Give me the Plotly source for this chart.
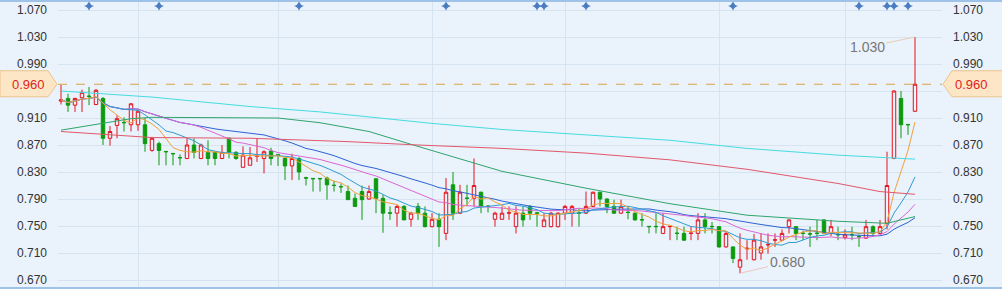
import plotly.graph_objects as go
import pandas as pd

# ---------------- data ----------------
opens = [0.935, 0.939, 0.929, 0.940, 0.9425, 0.930, 0.939, 0.880, 0.899, 0.9035,
         0.900, 0.900, 0.900, 0.862, 0.872, 0.8605, 0.8575, 0.8515, 0.850, 0.870,
         0.850, 0.859, 0.859, 0.850, 0.880, 0.859, 0.837, 0.840, 0.853, 0.850,
         0.861, 0.8555, 0.850, 0.839, 0.850, 0.8215, 0.8205, 0.8205, 0.821, 0.8105,
         0.8085, 0.801, 0.791, 0.801, 0.790, 0.820, 0.791, 0.7695, 0.769, 0.779,
         0.760, 0.779, 0.769, 0.749, 0.760, 0.739, 0.811, 0.769, 0.7915, 0.791,
         0.800, 0.7795, 0.760, 0.760, 0.769, 0.749, 0.769, 0.779, 0.7695, 0.749,
         0.749, 0.749, 0.769, 0.769, 0.7695, 0.769, 0.779, 0.800, 0.790, 0.779,
         0.769, 0.7705, 0.769, 0.7595, 0.7495, 0.7495, 0.739, 0.749, 0.7395, 0.739,
         0.739, 0.739, 0.759, 0.7495, 0.749, 0.719, 0.719, 0.689, 0.716, 0.700,
         0.710, 0.722, 0.729, 0.729, 0.749, 0.749, 0.7395, 0.7385, 0.7395, 0.759,
         0.739, 0.7375, 0.733, 0.7375, 0.7345, 0.732, 0.749, 0.739, 0.754, 0.850,
         0.939, 0.9005, 0.920]
highs = [0.959, 0.946, 0.940, 0.952, 0.956, 0.953, 0.941, 0.898, 0.914, 0.911,
         0.932, 0.922, 0.910, 0.882, 0.875, 0.861, 0.858, 0.856, 0.880, 0.880,
         0.872, 0.877, 0.861, 0.870, 0.881, 0.861, 0.868, 0.867, 0.880, 0.862,
         0.866, 0.856, 0.851, 0.857, 0.852, 0.823, 0.821, 0.821, 0.823, 0.817,
         0.813, 0.810, 0.798, 0.810, 0.810, 0.821, 0.796, 0.779, 0.781, 0.781,
         0.771, 0.784, 0.779, 0.769, 0.769, 0.821, 0.830, 0.811, 0.811, 0.850,
         0.801, 0.781, 0.771, 0.779, 0.779, 0.779, 0.779, 0.781, 0.771, 0.769,
         0.771, 0.770, 0.781, 0.781, 0.776, 0.801, 0.801, 0.801, 0.791, 0.789,
         0.789, 0.779, 0.770, 0.769, 0.750, 0.769, 0.769, 0.7495, 0.749, 0.749,
         0.749, 0.769, 0.769, 0.756, 0.750, 0.741, 0.720, 0.739, 0.729, 0.738,
         0.739, 0.739, 0.739, 0.745, 0.760, 0.750, 0.743, 0.749, 0.759, 0.760,
         0.759, 0.749, 0.745, 0.749, 0.737, 0.759, 0.751, 0.759, 0.860, 0.951,
         0.950, 0.901, 1.030]
lows = [0.930, 0.919, 0.919, 0.919, 0.929, 0.929, 0.870, 0.869, 0.880, 0.890,
        0.890, 0.891, 0.860, 0.860, 0.840, 0.840, 0.840, 0.840, 0.849, 0.850,
        0.849, 0.840, 0.840, 0.849, 0.850, 0.848, 0.836, 0.840, 0.845, 0.828,
        0.840, 0.839, 0.818, 0.818, 0.818, 0.810, 0.801, 0.801, 0.789, 0.801,
        0.799, 0.789, 0.779, 0.759, 0.789, 0.769, 0.740, 0.759, 0.749, 0.759,
        0.749, 0.759, 0.748, 0.748, 0.719, 0.729, 0.759, 0.768, 0.779, 0.779,
        0.769, 0.770, 0.749, 0.759, 0.759, 0.739, 0.749, 0.759, 0.749, 0.749,
        0.748, 0.748, 0.759, 0.749, 0.749, 0.768, 0.778, 0.779, 0.769, 0.768,
        0.768, 0.760, 0.758, 0.749, 0.739, 0.739, 0.738, 0.729, 0.729, 0.728,
        0.729, 0.729, 0.739, 0.739, 0.718, 0.718, 0.695, 0.680, 0.700, 0.699,
        0.700, 0.709, 0.719, 0.728, 0.739, 0.729, 0.729, 0.719, 0.729, 0.738,
        0.735, 0.729, 0.730, 0.729, 0.719, 0.731, 0.735, 0.738, 0.745, 0.849,
        0.880, 0.885, 0.919]
closes = [0.937, 0.929, 0.939, 0.948, 0.942, 0.951, 0.880, 0.890, 0.909, 0.903,
          0.931, 0.920, 0.872, 0.880, 0.862, 0.860, 0.857, 0.851, 0.870, 0.859,
          0.870, 0.850, 0.850, 0.859, 0.859, 0.850, 0.855, 0.851, 0.8535, 0.860,
          0.850, 0.855, 0.839, 0.850, 0.830, 0.821, 0.820, 0.820, 0.811, 0.810,
          0.808, 0.789, 0.779, 0.789, 0.801, 0.791, 0.769, 0.769, 0.779, 0.759,
          0.769, 0.769, 0.749, 0.760, 0.749, 0.800, 0.769, 0.800, 0.791, 0.810,
          0.779, 0.779, 0.769, 0.769, 0.7695, 0.769, 0.759, 0.769, 0.769, 0.759,
          0.769, 0.769, 0.779, 0.779, 0.769, 0.779, 0.800, 0.790, 0.779, 0.769,
          0.779, 0.770, 0.759, 0.759, 0.749, 0.749, 0.749, 0.7495, 0.739, 0.729,
          0.7395, 0.759, 0.749, 0.749, 0.719, 0.739, 0.702, 0.700, 0.717, 0.729,
          0.719, 0.7225, 0.7295, 0.739, 0.759, 0.739, 0.739, 0.738, 0.739, 0.739,
          0.749, 0.737, 0.737, 0.737, 0.734, 0.749, 0.739, 0.749, 0.810, 0.950,
          0.900, 0.900, 0.960]

# long moving averages (candle index, value)
ma60_idx = [0, 6, 10, 13, 20, 31, 37, 44, 50, 63, 75, 87, 98, 111, 118, 122]
ma60_val = [0.892, 0.902, 0.909, 0.911, 0.911, 0.910, 0.903, 0.890, 0.871, 0.831,
            0.806, 0.783, 0.766, 0.757, 0.754, 0.764]
ma120_idx = [0, 13, 27, 41, 51, 63, 75, 87, 98, 111, 117, 122]
ma120_val = [0.890, 0.881, 0.880, 0.875, 0.870, 0.865, 0.858, 0.848, 0.834, 0.813,
             0.801, 0.797]
ma250_idx = [0, 13, 27, 37, 53, 63, 75, 87, 98, 111, 122]
ma250_val = [0.950, 0.941, 0.927, 0.919, 0.902, 0.893, 0.885, 0.877, 0.865, 0.855,
             0.849]

month_starts = [11, 31, 53, 72, 94, 112]
event_idx = [4, 14, 34, 55, 68, 69, 75, 96, 114, 118, 119, 121]
y_ticks = [0.670, 0.710, 0.750, 0.790, 0.830, 0.870, 0.910, 0.950, 0.990, 1.030, 1.070]
last_price = 0.960
hi_idx, hi_val = 122, 1.030
lo_idx, lo_val = 97, 0.680

# ---------------- figure ----------------
BG = "#EAF2FB"
GRID = "#D6E4F1"
FONT = "Liberation Sans, Arial, sans-serif"

x = list(range(len(closes)))
cs = pd.Series(closes)

fig = go.Figure()

fig.add_trace(go.Candlestick(
    x=x, open=opens, high=highs, low=lows, close=closes,
    increasing=dict(line=dict(color="#E3141E", width=1), fillcolor=BG),
    decreasing=dict(line=dict(color="#0E9A0E", width=1), fillcolor="#0E9A0E"),
    whiskerwidth=0, showlegend=False, hoverinfo="skip"))

ma_colors = {5: "#F0A23A", 10: "#2F9CD0", 20: "#DC66D2", 30: "#2E62D6"}
for n in [30, 20, 10, 5]:
    fig.add_trace(go.Scatter(x=x, y=cs.rolling(n, min_periods=1).mean(),
                             mode="lines", line=dict(color=ma_colors[n], width=1),
                             showlegend=False, hoverinfo="skip"))

for idx, val, col in [(ma60_idx, ma60_val, "#2FA56C"),
                      (ma120_idx, ma120_val, "#E2586A"),
                      (ma250_idx, ma250_val, "#45DCE2")]:
    fig.add_trace(go.Scatter(x=idx, y=val, mode="lines",
                             line=dict(color=col, width=1),
                             showlegend=False, hoverinfo="skip"))

# event markers at top
fig.add_trace(go.Scatter(x=event_idx, y=[1.0759] * len(event_idx), mode="markers",
                         marker=dict(symbol="star-diamond", size=7, color="#4A7CC2"),
                         showlegend=False, hoverinfo="skip"))
# right axis dummy trace
fig.add_trace(go.Scatter(x=[0], y=[last_price], yaxis="y2", mode="markers",
                         marker=dict(opacity=0), showlegend=False, hoverinfo="skip"))

W, H = 1002, 289
L, R, T, B = 58, 60, 2, 2
pw = W - L - R
ph = H - T - B
ppu = 675.0
y_top = 1.070 + 8 / ppu
y_bot = y_top - ph / ppu
x_lo = -3 / 7
x_hi = x_lo + pw / 7


def px2paper(px):
    return (px - L) / pw


yaxis_common = dict(range=[y_bot, y_top], tickvals=y_ticks, tickformat=".3f",
                    showgrid=True, gridcolor=GRID, gridwidth=1, zeroline=False,
                    showline=False, ticks="", ticklabelstandoff=10,
                    tickfont=dict(family=FONT, size=12, color="#333333"),
                    fixedrange=True)

fig.update_layout(
    width=W, height=H, margin=dict(l=L, r=R, t=T, b=B),
    paper_bgcolor=BG, plot_bgcolor=BG,
    xaxis=dict(range=[x_lo, x_hi], tickvals=month_starts, showticklabels=False,
               showgrid=True, gridcolor=GRID, zeroline=False, showline=False,
               rangeslider=dict(visible=False), ticks=""),
    yaxis=dict(side="left", **yaxis_common),
    yaxis2=dict(side="right", overlaying="y", **yaxis_common),
    showlegend=False,
)

shapes = []
# last price dashed line
shapes.append(dict(type="line", xref="paper", yref="y", x0=0, x1=1,
                   y0=last_price, y1=last_price,
                   line=dict(color="#D6A24A", width=1, dash="dash")))
# price tag boxes
bt, bb = last_price + 13.5 / ppu, last_price - 12.5 / ppu
lx0, lx1, lx2 = px2paper(0), px2paper(48), px2paper(57)
shapes.append(dict(type="path", xref="paper", yref="y",
                   path=f"M {lx0},{bt} L {lx1},{bt} L {lx2},{last_price} L {lx1},{bb} L {lx0},{bb} Z",
                   fillcolor="#FCE6C6", line=dict(color="#EDC48E", width=1), layer="above"))
rx0, rx1, rx2 = px2paper(943), px2paper(952), px2paper(1003)
shapes.append(dict(type="path", xref="paper", yref="y",
                   path=f"M {rx0},{last_price} L {rx1},{bt} L {rx2},{bt} L {rx2},{bb} L {rx1},{bb} Z",
                   fillcolor="#FCE6C6", line=dict(color="#EDC48E", width=1), layer="above"))
# frame top / bottom lines
for yy in [1 + 1 / ph, -1 / ph]:
    shapes.append(dict(type="line", xref="paper", yref="paper",
                       x0=px2paper(0), x1=px2paper(W), y0=yy, y1=yy,
                       line=dict(color="#9EC2E8", width=2)))
fig.update_layout(shapes=shapes)

annotations = [
    dict(xref="paper", yref="y", x=px2paper(47), y=last_price, text=f"{last_price:.3f}",
         showarrow=False, xanchor="right", yanchor="middle",
         font=dict(family=FONT, size=13, color="#E01E1E")),
    dict(xref="paper", yref="y", x=px2paper(953), y=last_price, text=f"{last_price:.3f}",
         showarrow=False, xanchor="left", yanchor="middle",
         font=dict(family=FONT, size=13, color="#E01E1E")),
    dict(x=hi_idx, y=hi_val, xref="x", yref="y", text=f"{hi_val:.3f}",
         showarrow=True, arrowhead=0, arrowwidth=1, arrowcolor="#E9CDB0",
         ax=-48, ay=10, font=dict(family=FONT, size=14, color="#777777")),
    dict(x=lo_idx, y=lo_val, xref="x", yref="y", text=f"{lo_val:.3f}",
         showarrow=True, arrowhead=0, arrowwidth=1, arrowcolor="#EDC8C0",
         ax=47, ay=-11, font=dict(family=FONT, size=14, color="#777777")),
]
fig.update_layout(annotations=annotations)

fig.write_html("out.html")
